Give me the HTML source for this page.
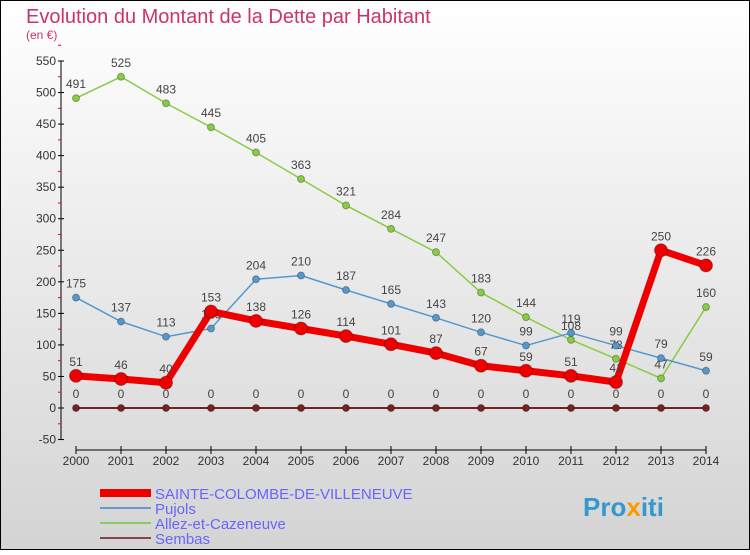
<!DOCTYPE html>
<html><head><meta charset="utf-8"><style>
body{margin:0}
svg text{font-family:"Liberation Sans",sans-serif}
</style></head><body>
<svg id="c" width="750" height="550" xmlns="http://www.w3.org/2000/svg">
<defs><linearGradient id="bg" x1="0" y1="0" x2="0" y2="1"><stop offset="0" stop-color="#ffffff"/><stop offset="1" stop-color="#d4d4d4"/></linearGradient></defs>
<rect x="0.5" y="0.5" width="749" height="549" fill="url(#bg)" stroke="#000"/>
<text x="26" y="23" font-size="20" fill="#cc3366">Evolution du Montant de la Dette par Habitant</text>
<text x="26" y="39" font-size="12" fill="#cc3366">(en €)</text>
<g id="axes"></g><g id="series"></g>
<g>
<line x1="100" y1="493" x2="151" y2="493" stroke="#ee0000" stroke-width="8"/>
<text x="155" y="499" font-size="15" fill="#6666ff">SAINTE-COLOMBE-DE-VILLENEUVE</text>
<line x1="100" y1="508" x2="151" y2="508" stroke="#6699cc" stroke-width="2"/>
<text x="155" y="514" font-size="15" fill="#6666ff">Pujols</text>
<line x1="100" y1="523" x2="151" y2="523" stroke="#88cc66" stroke-width="2"/>
<text x="155" y="529" font-size="15" fill="#6666ff">Allez-et-Cazeneuve</text>
<line x1="100" y1="538" x2="151" y2="538" stroke="#884444" stroke-width="2"/>
<text x="155" y="544" font-size="15" fill="#6666ff">Sembas</text>
</g>
<text x="583" y="516" font-size="26" font-weight="bold" fill="#3399cc">Pro<tspan fill="#ff9900">x</tspan>iti</text>
</svg>
<script>
const years=[2000,2001,2002,2003,2004,2005,2006,2007,2008,2009,2010,2011,2012,2013,2014];
const yTicks=[-50,0,50,100,150,200,250,300,350,400,450,500,550];
const sainte=[51,46,40,153,138,126,114,101,87,67,59,51,41,250,226];
const pujols=[175,137,113,126,204,210,187,165,143,120,99,119,99,79,59];
const allez=[491,525,483,445,405,363,321,284,247,183,144,108,78,47,160];
const sembas=[0,0,0,0,0,0,0,0,0,0,0,0,0,0,0];
const NS="http://www.w3.org/2000/svg";
const X=i=>76+i*45, Y=v=>408-v*(347/550);
function mk(p,t,a){const e=document.createElementNS(NS,t);for(const k in a)e.setAttribute(k,a[k]);p.appendChild(e);return e;}
const ax=document.getElementById('axes');
const yl=mk(ax,'line',{x1:61,y1:Y(550),x2:61,y2:Y(-50),stroke:'#000'});


const xl=mk(ax,'line',{x1:X(0),y1:450,x2:X(14),y2:450,stroke:'#000'});


yTicks.forEach(v=>{
 mk(ax,'line',{x1:58,y1:Y(v),x2:64,y2:Y(v),stroke:'#000'});
 mk(ax,'line',{x1:58,y1:Y(v+25),x2:61,y2:Y(v+25),stroke:'#f00'});
 const t=mk(ax,'text',{x:56,y:Y(v)+4,'font-size':12,'text-anchor':'end',fill:'#333'});
 t.textContent=v;
 
 
});
years.forEach((y,i)=>{
 mk(ax,'line',{x1:X(i),y1:446,x2:X(i),y2:454,stroke:'#000'});
 const t=mk(ax,'text',{x:X(i),y:465,'font-size':12,'text-anchor':'middle',fill:'#333'});
 t.textContent=y;
 
 
});
const sg=document.getElementById('series');
function draw(data,color,w,r,name){
 const g=mk(sg,'g',{});
 
 
 const p=mk(g,'polyline',{points:data.map((v,i)=>X(i)+','+Y(v)).join(' '),fill:'none',stroke:color,'stroke-width':w,'stroke-linejoin':'round'});
 
 
 data.forEach((v,i)=>{
  const c=mk(g,'circle',{cx:X(i),cy:Y(v),r:r,fill:color,stroke:'rgba(0,0,0,0.3)'});
  
  
  const t=mk(g,'text',{x:X(i),y:Y(v)-10,'font-size':12,'text-anchor':'middle',fill:'#444'});
  t.textContent=v;
  
  
 });
}
draw(sembas,'#772222',2,3.5,'sembas');
draw(allez,'#88cc44',1.5,3.5,'allez');
draw(pujols,'#5599cc',1.5,3.5,'pujols');
draw(sainte,'#ee0000',7,6.5,'sainte');
</script>
</body></html>
